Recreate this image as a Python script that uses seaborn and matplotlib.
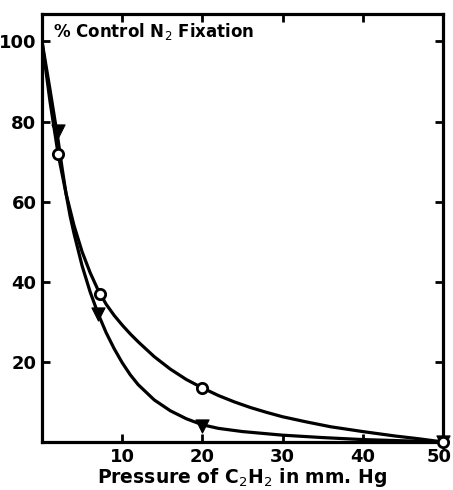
import matplotlib
matplotlib.use("Agg")
import matplotlib.pyplot as plt
import matplotlib.transforms as mtransforms
import seaborn as sns
import pandas as pd

# Curve traces
curve_x_circle = [0, 1, 2, 3, 4, 5, 6, 7, 8, 9, 10, 11, 12, 14, 16, 18, 20, 22, 24, 26, 28, 30, 33, 36, 40, 44, 47, 50]
curve_y_circle = [100, 85, 72, 62, 54, 47.5, 42.3, 37.9, 34.4, 31.6, 29.2, 27, 25, 21.3, 18.2, 15.6, 13.5, 11.6, 10, 8.6, 7.4, 6.3, 5, 3.8, 2.6, 1.5, 0.8, 0]
curve_x_tri = [0, 1, 2, 2.5, 3, 3.5, 4, 5, 6, 7, 8, 9, 10, 11, 12, 14, 16, 18, 20, 22, 25, 30, 35, 40, 45, 50]
curve_y_tri = [100, 88, 75.5, 68.5, 62, 56.5, 52, 44, 37.5, 32, 27.3, 23.3, 19.8, 16.8, 14.3, 10.5, 7.8, 5.8, 4.3, 3.4, 2.6, 1.7, 1.1, 0.6, 0.3, 0]

# Measured points
pts_x_circle = [2, 7.2, 20, 50]
pts_y_circle = [72, 37, 13.5, 0]
pts_x_tri = [2, 7, 20, 50]
pts_y_tri = [77.7, 32, 4, 0]

xticks = [10, 20, 30, 40, 50]
yticks = [20, 40, 60, 80, 100]

sns.set_style("ticks")
plt.rcParams['font.family'] = ['DejaVu Sans']

fig = plt.figure(figsize=(4.53, 4.90), dpi=100)
ax = fig.add_axes([0.0927, 0.098, 0.885, 0.873])

dc = pd.DataFrame({"x": curve_x_circle, "y": curve_y_circle})
dt = pd.DataFrame({"x": curve_x_tri, "y": curve_y_tri})
sns.lineplot(data=dc, x="x", y="y", ax=ax, color="black", linewidth=2.3, sort=False)
sns.lineplot(data=dt, x="x", y="y", ax=ax, color="black", linewidth=2.3, sort=False)

pc = pd.DataFrame({"x": pts_x_circle, "y": pts_y_circle})
pt = pd.DataFrame({"x": pts_x_tri, "y": pts_y_tri})
sns.scatterplot(data=pt, x="x", y="y", ax=ax, marker="v", s=90, color="black",
                edgecolor="black", zorder=5, clip_on=False)
sns.scatterplot(data=pc, x="x", y="y", ax=ax, marker="o", s=55, facecolor="white",
                edgecolor="black", linewidth=2, zorder=6, clip_on=False)

ax.set_xlim(0, 50)
ax.set_ylim(0, 106.8)
ax.set_xticks(xticks)
ax.set_yticks(yticks)
ax.set_xticklabels([str(v) for v in xticks], fontsize=13, fontweight="bold", color="black")
ax.set_yticklabels([str(v) for v in yticks], fontsize=13, fontweight="bold", color="black")
ax.tick_params(direction="in", length=6, width=2, top=True, right=True, pad=4, colors="black")
for s in ax.spines.values():
    s.set_visible(True)
    s.set_linewidth(2.3)
    s.set_color("black")

# nudge the last x tick label slightly left so it stays inside the figure
last = ax.get_xticklabels()[-1]
last.set_transform(last.get_transform() +
                   mtransforms.ScaledTranslation(-4 / 100, 0, fig.dpi_scale_trans))

ax.set_xlabel("Pressure of C$_2$H$_2$ in mm. Hg", fontsize=13.5, fontweight="bold",
              labelpad=0, color="black")
ax.set_ylabel("")
ax.text(0.028, 0.985, "% Control N$_2$ Fixation", transform=ax.transAxes,
        fontsize=12, fontweight="bold", va="top", ha="left", color="black")

fig.savefig("out.png", dpi=100)
